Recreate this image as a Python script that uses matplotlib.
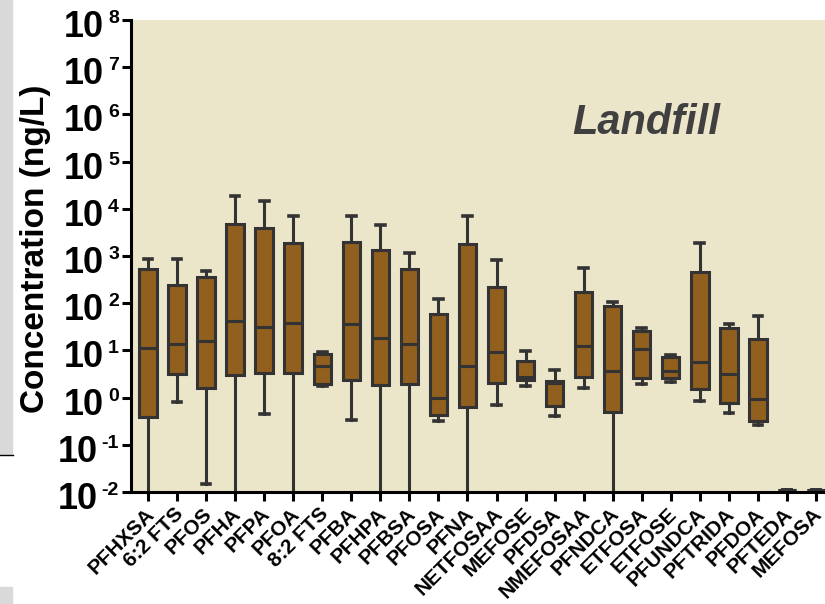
import matplotlib
matplotlib.use("Agg")
import matplotlib.pyplot as plt
from matplotlib.patches import Rectangle
from matplotlib.lines import Line2D
from matplotlib.transforms import ScaledTranslation

plt.rcParams["font.family"] = ["Liberation Sans", "DejaVu Sans"]

categories = ["PFHXSA", "6:2 FTS", "PFOS", "PFHA", "PFPA", "PFOA", "8:2 FTS", "PFBA",
              "PFHPA", "PFBSA", "PFOSA", "PFNA", "NETFOSAA", "MEFOSE", "PFDSA", "NMEFOSAA",
              "PFNDCA", "ETFOSA", "ETFOSE", "PFUNDCA", "PFTRIDA", "PFDOA", "PFTEDA", "MEFOSA"]
whis_hi = [870, 850, 480, 18700, 14900, 6900, 9.1, 7100, 4500, 1160, 121, 7100,
           810, 9.9, 3.9, 550, 108, 30, 8.1, 1860, 36, 54, 0.011, 0.011]
q3 = [530, 247, 365, 4700, 3860, 1890, 8.4, 2010, 1320, 540, 60, 1770,
      217, 6.0, 2.3, 170, 88, 26, 7.4, 452, 30, 17.5, 0.011, 0.011]
med = [11.4, 13.5, 15.8, 42.6, 30.8, 37.5, 4.7, 36.8, 18, 13.5, 0.97, 4.6,
       9.4, 2.7, 2.0, 12.2, 3.7, 10.7, 3.7, 5.6, 3.1, 0.92, 0.011, 0.011]
q1 = [0.38, 3.2, 1.62, 3.05, 3.27, 3.27, 1.91, 2.36, 1.85, 1.97, 0.43, 0.62,
      2.07, 2.36, 0.67, 2.77, 0.50, 2.57, 2.57, 1.5, 0.78, 0.32, 0.011, 0.011]
whis_lo = [0.001, 0.82, 0.015, 0.001, 0.44, 0.001, 1.8, 0.33, 0.001, 0.001, 0.32, 0.001,
           0.71, 1.79, 0.41, 1.6, 0.001, 1.97, 2.17, 0.84, 0.47, 0.26, 0.011, 0.011]
decades = list(range(-2, 9))

edge = "#333333"
fill = "#915F1E"
bg = "#EBE5CA"

fig = plt.figure(figsize=(8.25, 6.04), dpi=100)
ax = fig.add_axes([131 / 825, 112 / 604, 1 - 131 / 825, 472 / 604])
ax.set_facecolor(bg)

stats = []
for i, name in enumerate(categories):
    stats.append({"label": name, "med": med[i], "q1": q1[i], "q3": q3[i],
                  "whislo": whis_lo[i], "whishi": whis_hi[i], "fliers": []})

ax.bxp(stats, positions=range(len(categories)), widths=0.6, capwidths=0.3,
       patch_artist=True, showfliers=False,
       boxprops=dict(facecolor=fill, edgecolor=edge, linewidth=2.2),
       medianprops=dict(color=edge, linewidth=2.2),
       whiskerprops=dict(color=edge, linewidth=2.2),
       capprops=dict(color=edge, linewidth=2.6))

ax.set_yscale("log")
ax.set_ylim(1e-2, 1e8)
ax.set_xlim(-0.585, 23.31)

for s in ["top", "right"]:
    ax.spines[s].set_visible(False)
for s in ["left", "bottom"]:
    ax.spines[s].set_linewidth(2.2)
    ax.spines[s].set_color("black")

ax.set_yticks([10.0 ** k for k in decades])
ax.set_yticklabels([])
ax.yaxis.set_minor_locator(matplotlib.ticker.NullLocator())
ax.tick_params(axis="both", which="major", direction="out", length=6.5, width=2.2, color="black")
ax.tick_params(axis="x", pad=10)

ax.set_xticks(range(len(categories)))
ax.set_xticklabels(categories, rotation=45, ha="right", va="baseline", rotation_mode="anchor",
                   fontsize=15, fontweight="bold")
shift = ScaledTranslation(7 / 100, 0, fig.dpi_scale_trans)
for lbl in ax.get_xticklabels():
    lbl.set_transform(lbl.get_transform() + shift)

# decade labels: big "10" with a small exponent, tops aligned
for k in decades:
    e = ax.annotate(str(k), xy=(0, 10.0 ** k), xycoords=("axes fraction", "data"),
                    xytext=(-12, 10), textcoords="offset pixels", ha="right", va="top",
                    fontsize=14, fontweight="bold")
    ax.annotate("10", xy=(0, 1), xycoords=e, xytext=(-4, 0), textcoords="offset pixels",
                ha="right", va="top", fontsize=26, fontweight="bold")

fig.text(36 / 825, 1 - 249 / 604, "Concentration (ng/L)", rotation=90, ha="center",
         va="center", fontsize=24, fontweight="bold")
fig.text(572 / 825, 1 - 134 / 604, "Landfill", ha="left", va="baseline", fontsize=30,
         fontweight="bold", fontstyle="italic", color="#404040")

# cropped-page remnants on the left edge
fig.patches.append(Rectangle((0, 1 - 454 / 604), 12 / 825, 454 / 604,
                             transform=fig.transFigure, color="#D9D9D9", zorder=0))
fig.patches.append(Rectangle((0, 0), 12 / 825, 17 / 604,
                             transform=fig.transFigure, color="#D9D9D9", zorder=0))
fig.lines.append(Line2D([0, 13 / 825], [1 - 455 / 604, 1 - 455 / 604],
                        transform=fig.transFigure, color="black", linewidth=1))

fig.savefig("out.png", dpi=100)
